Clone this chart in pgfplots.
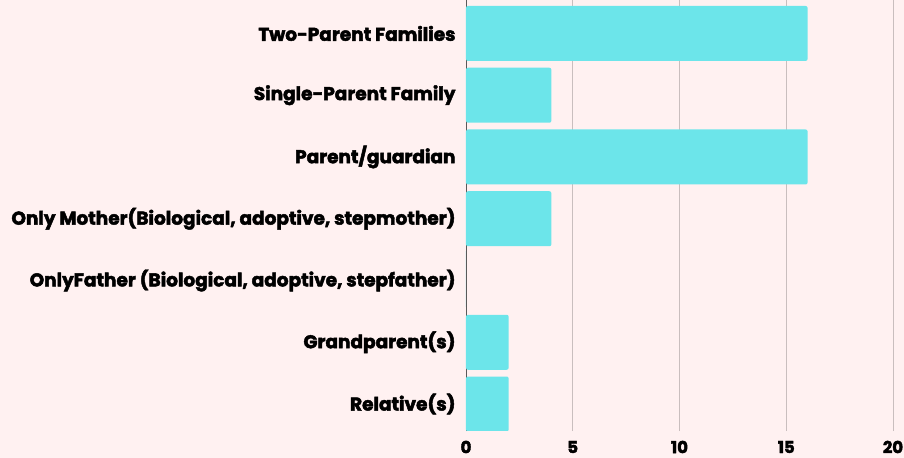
\documentclass[border=0pt]{standalone}
\usepackage{pgfplots}
\pgfplotsset{compat=1.18}
\usepackage{fontspec}
\setmainfont{Poppins}[BoldFeatures={FakeBold=2.5}]
\definecolor{bg}{HTML}{FFF1F1}
\definecolor{barc}{HTML}{6CE5EA}
\definecolor{gridc}{HTML}{C9BEBE}
\begin{document}
\begin{tikzpicture}
\fill[bg] (-466bp,-27bp) rectangle (438bp,431bp);
\useasboundingbox (-466bp,-27bp) rectangle (438bp,431bp);
\begin{axis}[
  at={(0,0)}, anchor=south west,
  scale only axis, width=427bp, height=431bp,
  xmin=0, xmax=20, ymin=-0.437, ymax=6.542,
  xbar, bar width=55bp, bar shift=0pt,
  xtick={0,5,10,15,20},
  ytick={0,...,6},
  yticklabels={Relative(s),Grandparent(s),{OnlyFather (Biological, adoptive, stepfather)},{Only Mother(Biological, adoptive, stepmother)},Parent/guardian,Single-Parent Family,Two-Parent Families},
  xmajorgrids, grid style={gridc, line width=0.8pt},
  axis line style={draw=none},
  major tick length=0pt,
  tick label style={font=\fontsize{18.5bp}{21bp}\selectfont\bfseries},
  /pgf/number format/assume math mode=true,
  yticklabel style={xshift=-7bp},
  xticklabel style={anchor=center, yshift=-16bp, font=\fontsize{16.5bp}{19bp}\selectfont\bfseries},
  extra x ticks={0}, extra x tick labels={},
  extra x tick style={grid style={draw=gray!70!black, line width=0.8pt}},
]
\addplot[fill=barc, draw=none, rounded corners=2pt] coordinates {(2,0) (2,1) (0,2) (4,3) (16,4) (4,5) (16,6)};
\end{axis}
\end{tikzpicture}
\end{document}
